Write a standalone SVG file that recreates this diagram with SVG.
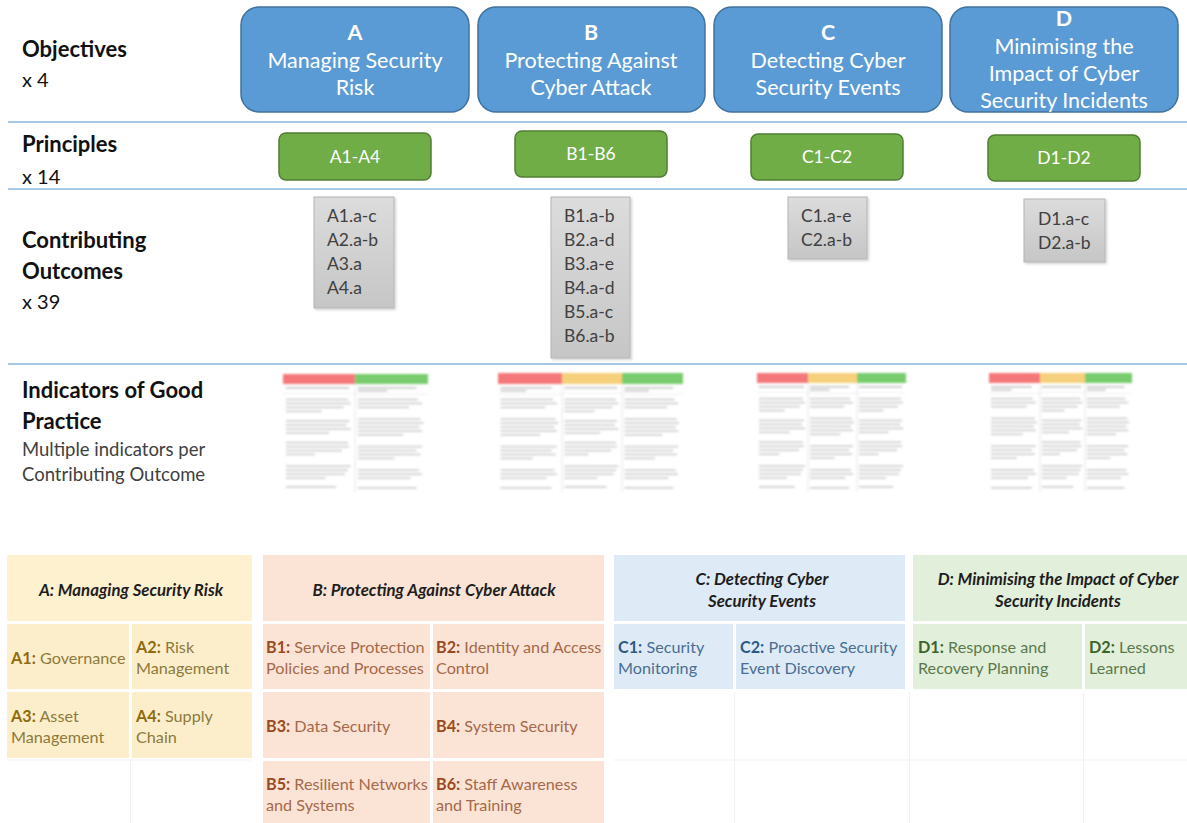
<svg xmlns="http://www.w3.org/2000/svg" xmlns:xlink="http://www.w3.org/1999/xlink" width="1187" height="823" viewBox="0 0 1187 823">
  <style>
    .lbl{font-family:Lato,"Open Sans","Liberation Sans",sans-serif;fill:#111}
    .lblB{font-weight:700;font-size:22px}
    .lblR{font-size:20px}
    .lblS{font-size:18.5px;fill:#404040}
    .obj rect{fill:#5b9bd5;stroke:#41719c;stroke-width:1.5}
    .obj text{font-family:Lato,"Open Sans","Liberation Sans",sans-serif;font-size:21.5px;fill:#fff;text-anchor:middle}
    .prn rect{fill:#70ad47;stroke:#507e32;stroke-width:1.5}
    .prn text{font-family:Lato,"Open Sans","Liberation Sans",sans-serif;font-size:17.5px;fill:#fff;text-anchor:middle}
    .out rect{fill:url(#greyGrad);stroke:#b4b4b4;stroke-width:1}
    .out text{font-family:Lato,"Open Sans","Liberation Sans",sans-serif;font-size:17.5px;fill:#404040}
    .sep{stroke:#a7c7e7;stroke-width:2.2}
    .th{font-family:Lato,"Open Sans","Liberation Sans",sans-serif;font-size:16.8px;font-weight:700;font-style:italic;fill:#1e1e1e;text-anchor:middle}
    .tc{font-family:Lato,"Open Sans","Liberation Sans",sans-serif;font-size:16.2px}
    .tc tspan.k{font-weight:700}
    .ta{fill:#8c7a3c}.ta .k{fill:#8f6c0c}
    .tb{fill:#a6694b}.tb .k{fill:#9c4a22}
    .tcc{fill:#4a6e92}.tcc .k{fill:#2b5a88}
    .td{fill:#5a7a4d}.td .k{fill:#3a6428}
    .grid{stroke:#f1f1f1;stroke-width:1}
    .bar{fill:#a0a0a0}
  </style>
  <defs>
    <linearGradient id="greyGrad" x1="0" y1="0" x2="0" y2="1">
      <stop offset="0" stop-color="#dcdcdc"/>
      <stop offset="1" stop-color="#c6c6c6"/>
    </linearGradient>
    <filter id="soft" x="-5%" y="-5%" width="110%" height="110%">
      <feGaussianBlur stdDeviation="0.9"/>
    </filter>
    <filter id="shadow" x="-10%" y="-10%" width="125%" height="125%">
      <feDropShadow dx="1.5" dy="1.5" stdDeviation="1.2" flood-color="#000" flood-opacity="0.18"/>
    </filter>
    <!-- blurred text lines of a thumbnail table column -->
    <symbol id="colText1" viewBox="0 0 100 108" preserveAspectRatio="none">
      <rect class="bar" x="4" y="2" width="88" height="1.8"/>
      <rect x="0" y="8" width="100" height="0.8" fill="#dcdcdc"/>
      <rect class="bar" x="4" y="14" width="86" height="1.6"/>
      <rect class="bar" x="4" y="18" width="90" height="1.6"/>
      <rect class="bar" x="4" y="22" width="80" height="1.6"/>
      <rect class="bar" x="4" y="26" width="50" height="1.6"/>
      <rect class="bar" x="4" y="36" width="88" height="1.6"/>
      <rect class="bar" x="4" y="40" width="84" height="1.6"/>
      <rect class="bar" x="4" y="44" width="90" height="1.6"/>
      <rect class="bar" x="4" y="48" width="60" height="1.6"/>
      <rect class="bar" x="4" y="58" width="86" height="1.6"/>
      <rect class="bar" x="4" y="62" width="88" height="1.6"/>
      <rect class="bar" x="4" y="66" width="78" height="1.6"/>
      <rect class="bar" x="4" y="70" width="40" height="1.6"/>
      <rect class="bar" x="4" y="82" width="90" height="1.6"/>
      <rect class="bar" x="4" y="86" width="86" height="1.6"/>
      <rect class="bar" x="4" y="90" width="82" height="1.6"/>
      <rect class="bar" x="4" y="94" width="55" height="1.6"/>
      <rect class="bar" x="4" y="103" width="70" height="1.6"/>
    </symbol>
    <symbol id="colText2" viewBox="0 0 100 108" preserveAspectRatio="none">
      <rect class="bar" x="4" y="2" width="80" height="1.8"/>
      <rect class="bar" x="4" y="5" width="40" height="1.8"/>
      <rect x="0" y="9" width="100" height="0.8" fill="#dcdcdc"/>
      <rect class="bar" x="4" y="14" width="82" height="1.6"/>
      <rect class="bar" x="4" y="18" width="88" height="1.6"/>
      <rect class="bar" x="4" y="22" width="70" height="1.6"/>
      <rect class="bar" x="4" y="34" width="86" height="1.6"/>
      <rect class="bar" x="4" y="38" width="90" height="1.6"/>
      <rect class="bar" x="4" y="42" width="84" height="1.6"/>
      <rect class="bar" x="4" y="46" width="88" height="1.6"/>
      <rect class="bar" x="4" y="50" width="62" height="1.6"/>
      <rect class="bar" x="4" y="62" width="88" height="1.6"/>
      <rect class="bar" x="4" y="66" width="80" height="1.6"/>
      <rect class="bar" x="4" y="70" width="86" height="1.6"/>
      <rect class="bar" x="4" y="74" width="50" height="1.6"/>
      <rect class="bar" x="4" y="86" width="84" height="1.6"/>
      <rect class="bar" x="4" y="90" width="88" height="1.6"/>
      <rect class="bar" x="4" y="94" width="72" height="1.6"/>
      <rect class="bar" x="4" y="104" width="80" height="1.6"/>
    </symbol>
  </defs>

  <rect width="1187" height="823" fill="#fff"/>

  <!-- row labels -->
  <g id="row-labels" class="lbl">
    <text class="lblB" x="22" y="57">Objectives</text>
    <text class="lblR" x="22" y="87">x 4</text>
    <text class="lblB" x="22" y="152">Principles</text>
    <text class="lblR" x="22" y="184">x 14</text>
    <text class="lblB" x="22" y="248">Contributing</text>
    <text class="lblB" x="22" y="279">Outcomes</text>
    <text class="lblR" x="22" y="309">x 39</text>
    <text class="lblB" x="22" y="398">Indicators of Good</text>
    <text class="lblB" x="22" y="429">Practice</text>
    <text class="lblS" x="22" y="456">Multiple indicators per</text>
    <text class="lblS" x="22" y="481">Contributing Outcome</text>
  </g>

  <!-- row separators -->
  <g id="separators">
    <line class="sep" x1="8" y1="122" x2="1187" y2="122"/>
    <line class="sep" x1="8" y1="189" x2="1187" y2="189"/>
    <line class="sep" x1="8" y1="364" x2="1187" y2="364"/>
  </g>

  <!-- objectives -->
  <g id="obj-a" class="obj">
    <rect x="241" y="7" width="228" height="105" rx="18"/>
    <text x="355" y="40" font-weight="700">A</text>
    <text x="355" y="68">Managing Security</text>
    <text x="355" y="95">Risk</text>
  </g>
  <g id="obj-b" class="obj">
    <rect x="478" y="7" width="227" height="105" rx="18"/>
    <text x="591" y="40" font-weight="700">B</text>
    <text x="591" y="68">Protecting Against</text>
    <text x="591" y="95">Cyber Attack</text>
  </g>
  <g id="obj-c" class="obj">
    <rect x="714" y="7" width="228" height="105" rx="18"/>
    <text x="828" y="40" font-weight="700">C</text>
    <text x="828" y="68">Detecting Cyber</text>
    <text x="828" y="95">Security Events</text>
  </g>
  <g id="obj-d" class="obj">
    <rect x="950" y="7" width="228" height="105" rx="18"/>
    <text x="1064" y="26" font-weight="700">D</text>
    <text x="1064" y="54">Minimising the</text>
    <text x="1064" y="81">Impact of Cyber</text>
    <text x="1064" y="108">Security Incidents</text>
  </g>

  <!-- principles -->
  <g id="prn-a" class="prn">
    <rect x="279" y="133" width="152" height="47" rx="7"/>
    <text x="355" y="163">A1-A4</text>
  </g>
  <g id="prn-b" class="prn">
    <rect x="515" y="131" width="152" height="46" rx="7"/>
    <text x="591" y="160">B1-B6</text>
  </g>
  <g id="prn-c" class="prn">
    <rect x="751" y="134" width="152" height="46" rx="7"/>
    <text x="827" y="163">C1-C2</text>
  </g>
  <g id="prn-d" class="prn">
    <rect x="988" y="135" width="152" height="46" rx="7"/>
    <text x="1064" y="164">D1-D2</text>
  </g>

  <!-- contributing outcomes -->
  <g id="out-a" class="out">
    <rect x="314" y="197" width="80" height="111" filter="url(#shadow)"/>
    <text x="327" y="222">A1.a-c</text>
    <text x="327" y="246">A2.a-b</text>
    <text x="327" y="270">A3.a</text>
    <text x="327" y="294">A4.a</text>
  </g>
  <g id="out-b" class="out">
    <rect x="551" y="197" width="79" height="161" filter="url(#shadow)"/>
    <text x="564" y="222">B1.a-b</text>
    <text x="564" y="246">B2.a-d</text>
    <text x="564" y="270">B3.a-e</text>
    <text x="564" y="294">B4.a-d</text>
    <text x="564" y="318">B5.a-c</text>
    <text x="564" y="342">B6.a-b</text>
  </g>
  <g id="out-c" class="out">
    <rect x="788" y="197" width="79" height="62" filter="url(#shadow)"/>
    <text x="801" y="222">C1.a-e</text>
    <text x="801" y="246">C2.a-b</text>
  </g>
  <g id="out-d" class="out">
    <rect x="1024" y="199" width="81" height="63" filter="url(#shadow)"/>
    <text x="1038" y="225">D1.a-c</text>
    <text x="1038" y="249">D2.a-b</text>
  </g>

  <!-- indicator table thumbnails -->
  <g id="ind-a" filter="url(#soft)">
    <rect x="283" y="374" width="72" height="10" fill="#f4787a"/>
    <rect x="355" y="374" width="73" height="10" fill="#78cc6e"/>
    <line x1="355" y1="384" x2="355" y2="492" stroke="#e6e6e6"/>
    <use href="#colText1" x="283" y="385" width="72" height="106" opacity="0.55"/>
    <use href="#colText2" x="355" y="385" width="73" height="106" opacity="0.55"/>
  </g>
  <g id="ind-b" filter="url(#soft)">
    <rect x="498" y="373" width="64" height="11" fill="#f4787a"/>
    <rect x="562" y="373" width="60" height="11" fill="#f6d07c"/>
    <rect x="622" y="373" width="61" height="11" fill="#78cc6e"/>
    <line x1="562" y1="384" x2="562" y2="492" stroke="#e6e6e6"/>
    <line x1="622" y1="384" x2="622" y2="492" stroke="#e6e6e6"/>
    <use href="#colText2" x="498" y="385" width="64" height="106" opacity="0.55"/>
    <use href="#colText1" x="562" y="385" width="60" height="106" opacity="0.55"/>
    <use href="#colText2" x="622" y="385" width="61" height="106" opacity="0.55"/>
  </g>
  <g id="ind-c" filter="url(#soft)">
    <rect x="757" y="373" width="51" height="10" fill="#f4787a"/>
    <rect x="808" y="373" width="49" height="10" fill="#f6d07c"/>
    <rect x="857" y="373" width="49" height="10" fill="#78cc6e"/>
    <line x1="808" y1="383" x2="808" y2="492" stroke="#e6e6e6"/>
    <line x1="857" y1="383" x2="857" y2="492" stroke="#e6e6e6"/>
    <use href="#colText1" x="757" y="384" width="51" height="107" opacity="0.55"/>
    <use href="#colText2" x="808" y="384" width="49" height="107" opacity="0.55"/>
    <use href="#colText1" x="857" y="384" width="49" height="107" opacity="0.55"/>
  </g>
  <g id="ind-d" filter="url(#soft)">
    <rect x="989" y="373" width="51" height="10" fill="#f4787a"/>
    <rect x="1040" y="373" width="45" height="10" fill="#f6d07c"/>
    <rect x="1085" y="373" width="47" height="10" fill="#78cc6e"/>
    <line x1="1040" y1="383" x2="1040" y2="492" stroke="#e6e6e6"/>
    <line x1="1085" y1="383" x2="1085" y2="492" stroke="#e6e6e6"/>
    <use href="#colText2" x="989" y="384" width="51" height="107" opacity="0.55"/>
    <use href="#colText1" x="1040" y="384" width="45" height="107" opacity="0.55"/>
    <use href="#colText2" x="1085" y="384" width="47" height="107" opacity="0.55"/>
  </g>

  <!-- principles table: faint grid of the empty cells -->
  <g id="table-grid">
    <line class="grid" x1="7" y1="760" x2="252" y2="760"/>
    <line class="grid" x1="130.5" y1="760" x2="130.5" y2="823"/>
    <line class="grid" x1="614" y1="760" x2="1187" y2="760"/>
    <line class="grid" x1="734.5" y1="692" x2="734.5" y2="823"/>
    <line class="grid" x1="909.5" y1="692" x2="909.5" y2="823"/>
    <line class="grid" x1="1083.5" y1="692" x2="1083.5" y2="823"/>
  </g>

  <!-- principles table: objective A -->
  <g id="tbl-a">
    <rect x="7" y="555" width="245" height="66" fill="#fef1d0"/>
    <rect x="7" y="624" width="122" height="65" fill="#fdeecb"/>
    <rect x="132" y="624" width="120" height="65" fill="#fdeecb"/>
    <rect x="7" y="692" width="122" height="66" fill="#fdeecb"/>
    <rect x="132" y="692" width="120" height="66" fill="#fdeecb"/>
    <text class="th" x="131" y="596">A: Managing Security Risk</text>
    <text class="tc ta" x="11" y="664"><tspan class="k">A1:</tspan> Governance</text>
    <text class="tc ta" x="136" y="653"><tspan class="k">A2:</tspan> Risk</text>
    <text class="tc ta" x="136" y="674">Management</text>
    <text class="tc ta" x="11" y="722"><tspan class="k">A3:</tspan> Asset</text>
    <text class="tc ta" x="11" y="743">Management</text>
    <text class="tc ta" x="136" y="722"><tspan class="k">A4:</tspan> Supply</text>
    <text class="tc ta" x="136" y="743">Chain</text>
  </g>

  <!-- principles table: objective B -->
  <g id="tbl-b">
    <rect x="263" y="555" width="341" height="66" fill="#fbe4d5"/>
    <rect x="263" y="624" width="167" height="65" fill="#fbe4d5"/>
    <rect x="433" y="624" width="171" height="65" fill="#fbe4d5"/>
    <rect x="263" y="692" width="167" height="66" fill="#fbe4d5"/>
    <rect x="433" y="692" width="171" height="66" fill="#fbe4d5"/>
    <rect x="263" y="761" width="167" height="62" fill="#fbe4d5"/>
    <rect x="433" y="761" width="171" height="62" fill="#fbe4d5"/>
    <text class="th" x="434" y="596">B: Protecting Against Cyber Attack</text>
    <text class="tc tb" x="266" y="653"><tspan class="k">B1:</tspan> Service Protection</text>
    <text class="tc tb" x="266" y="674">Policies and Processes</text>
    <text class="tc tb" x="436" y="653"><tspan class="k">B2:</tspan> Identity and Access</text>
    <text class="tc tb" x="436" y="674">Control</text>
    <text class="tc tb" x="266" y="732"><tspan class="k">B3:</tspan> Data Security</text>
    <text class="tc tb" x="436" y="732"><tspan class="k">B4:</tspan> System Security</text>
    <text class="tc tb" x="266" y="790"><tspan class="k">B5:</tspan> Resilient Networks</text>
    <text class="tc tb" x="266" y="811">and Systems</text>
    <text class="tc tb" x="436" y="790"><tspan class="k">B6:</tspan> Staff Awareness</text>
    <text class="tc tb" x="436" y="811">and Training</text>
  </g>

  <!-- principles table: objective C -->
  <g id="tbl-c">
    <rect x="614" y="555" width="291" height="66" fill="#deebf7"/>
    <rect x="614" y="624" width="119" height="65" fill="#deebf7"/>
    <rect x="736" y="624" width="169" height="65" fill="#deebf7"/>
    <text class="th" x="762" y="585">C: Detecting Cyber</text>
    <text class="th" x="762" y="607">Security Events</text>
    <text class="tc tcc" x="618" y="653"><tspan class="k">C1:</tspan> Security</text>
    <text class="tc tcc" x="618" y="674">Monitoring</text>
    <text class="tc tcc" x="740" y="653"><tspan class="k">C2:</tspan> Proactive Security</text>
    <text class="tc tcc" x="740" y="674">Event Discovery</text>
  </g>

  <!-- principles table: objective D -->
  <g id="tbl-d">
    <rect x="913" y="555" width="274" height="66" fill="#e2efda"/>
    <rect x="913" y="624" width="169" height="65" fill="#e2efda"/>
    <rect x="1085" y="624" width="102" height="65" fill="#e2efda"/>
    <text class="th" x="1058" y="585">D: Minimising the Impact of Cyber</text>
    <text class="th" x="1058" y="607">Security Incidents</text>
    <text class="tc td" x="918" y="653"><tspan class="k">D1:</tspan> Response and</text>
    <text class="tc td" x="918" y="674">Recovery Planning</text>
    <text class="tc td" x="1089" y="653"><tspan class="k">D2:</tspan> Lessons</text>
    <text class="tc td" x="1089" y="674">Learned</text>
  </g>
</svg>
